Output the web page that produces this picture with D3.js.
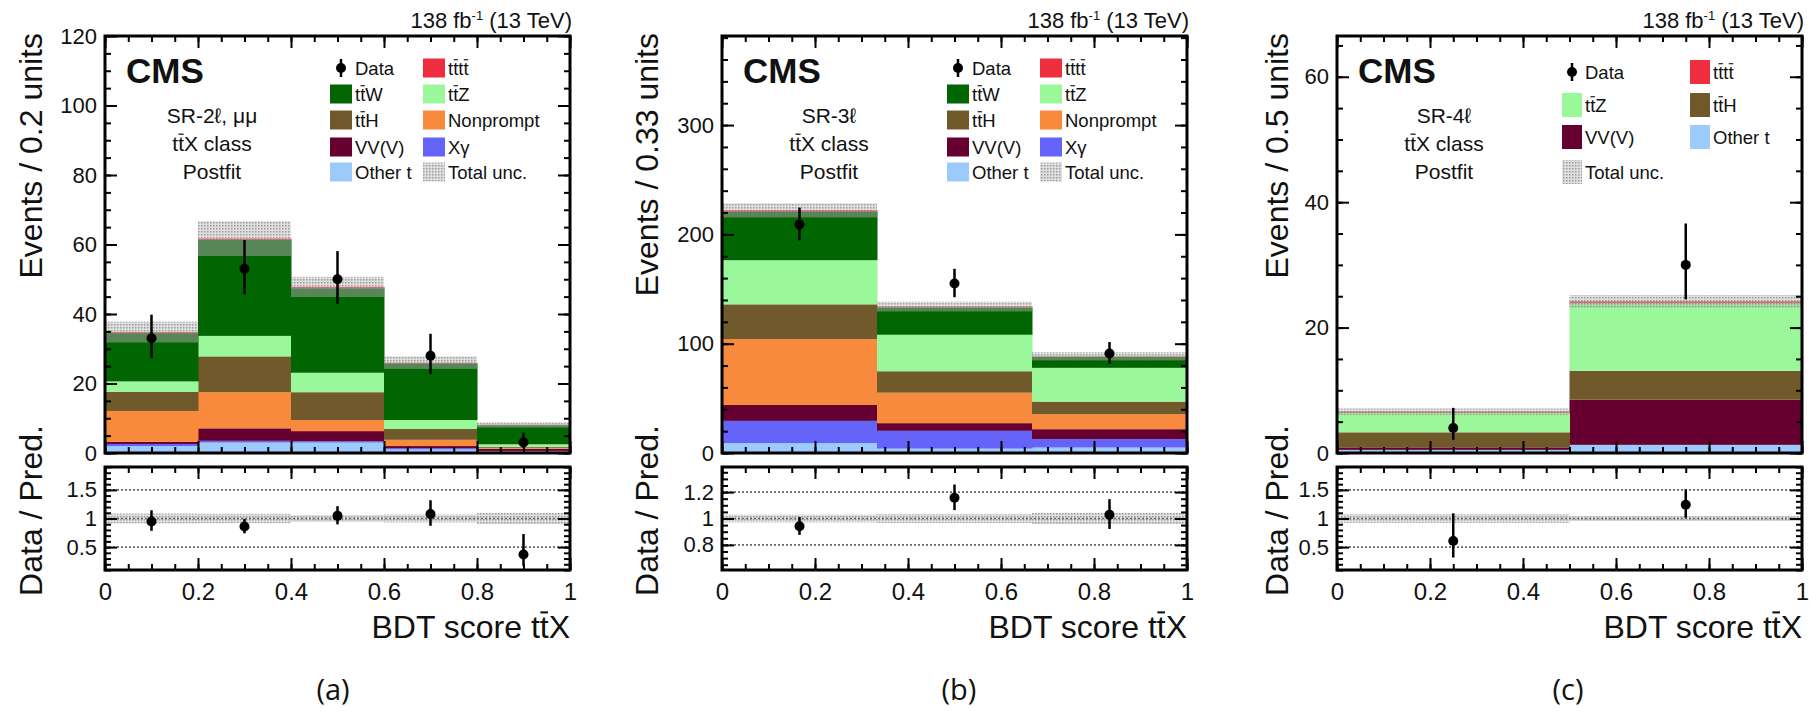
<!DOCTYPE html>
<html>
<head>
<meta charset="utf-8">
<script src="https://cdn.jsdelivr.net/npm/d3@7"></script>
<style>
  body { margin: 0; background: #fff; }
  text { font-family: "Liberation Sans", Arial, sans-serif; fill: #111; }
</style>
</head>
<body>
<svg id="fig" width="1809" height="712"></svg>
<script>

// ---- values ----

// (a) SR-2l, mumu : 5 bins
const edgesA = [0, 0.2, 0.4, 0.6, 0.8, 1.0]
const otherTA = [2.0, 3.0, 3.0, 1.0, 0.4]
const xgammaA = [0.6, 0.5, 0.4, 0.4, 0.2]
const vvvA = [0.6, 3.6, 2.9, 0.6, 0.6]
const nonpromptA = [8.9, 10.4, 3.2, 1.8, 0.3]
const tthA = [5.5, 10.3, 8.0, 3.1, 0.3]
const ttzA = [3.0, 5.9, 5.6, 2.6, 0.7]
const ttwA = [13.9, 27.6, 24.3, 16.3, 5.5]
const ttttA = [0.3, 0.4, 0.4, 0.2, 0.1]
const uncA = [3.0, 5.0, 2.9, 1.8, 0.8]
const dataA = [33, 53, 50, 28, 3]
const dataUpA = [6.8, 8.3, 8.1, 6.3, 2.9]
const dataDnA = [5.7, 7.3, 7.1, 5.3, 1.6]

// (b) SR-3l : 3 bins
const edgesB = [0, 1 / 3, 2 / 3, 1.0]
const otherTB = [9.1, 4.0, 5.0]
const xgammaB = [20.3, 16.3, 7.7]
const vvvB = [14.5, 7.0, 9.1]
const nonpromptB = [60.3, 27.9, 13.7]
const tthB = [31.8, 19.6, 11.5]
const ttzB = [40.4, 33.4, 30.9]
const ttwB = [44.1, 25.0, 10.1]
const ttttB = [1.5, 0.8, 0.5]
const uncB = [6.5, 4.5, 3.8]
const dataB = [209, 155, 91]
const dataUpB = [15.5, 13.5, 10.5]
const dataDnB = [14.5, 12.5, 9.5]

// (c) SR-4l : 2 bins
const edgesC = [0, 0.5, 1.0]
const otherTC = [0.5, 1.3]
const vvvC = [0.4, 7.2]
const tthC = [2.4, 4.6]
const ttzC = [3.1, 10.8]
const ttttC = [0.2, 0.3]
const uncC = [0.5, 1.0]
const dataC = [4, 30]
const dataUpC = [3.2, 6.6]
const dataDnC = [1.9, 5.5]

const xTicks = [0, 0.2, 0.4, 0.6, 0.8, 1]

// ---- styling ----

const colors = {
    otherT: '#9ccbfb',
    xgamma: '#6464fa',
    vvv: '#650031',
    nonprompt: '#f88a3e',
    tth: '#705a2b',
    ttz: '#9af79a',
    ttw: '#016501',
    tttt: '#ee2e3e'
}
const names = {
    data: 'Data',
    tttt: 'tt\u0304tt\u0304',
    ttw: 'tt\u0304W',
    ttz: 'tt\u0304Z',
    tth: 'tt\u0304H',
    nonprompt: 'Nonprompt',
    vvv: 'VV(V)',
    xgamma: 'X\u03b3',
    otherT: 'Other t',
    unc: 'Total unc.'
}

const PW = 465
const TOP = 36
const MAIN_BOT = 453
const RATIO_TOP = 467
const RATIO_BOT = 570

const panels = [
    {
        left: 105, titleX: 31, caption: '(a)', capX: 333,
        edges: edgesA, yMax: 120, yMajor: 20, yMinor: 5,
        ytitle: 'Events / 0.2 units',
        region: 'SR-2\u2113, \u03bc\u03bc',
        series: [
            ['otherT', otherTA], ['xgamma', xgammaA], ['vvv', vvvA], ['nonprompt', nonpromptA],
            ['tth', tthA], ['ttz', ttzA], ['ttw', ttwA], ['tttt', ttttA]
        ],
        unc: uncA, data: dataA, up: dataUpA, dn: dataDnA,
        rDomain: [0.1, 1.9], rTicks: [0.5, 1, 1.5], rMinor: 0.1,
        legend: {
            cols: [225, 318], textOff: 25, sw: 22, sh: 19, rows: [68, 94, 120, 147, 172],
            items: [['data', 'tttt'], ['ttw', 'ttz'], ['tth', 'nonprompt'], ['vvv', 'xgamma'], ['otherT', 'unc']]
        }
    },
    {
        left: 722, titleX: 647, caption: '(b)', capX: 959,
        edges: edgesB, yMax: 381.5, yMajor: 100, yMinor: 20,
        ytitle: 'Events / 0.33 units',
        region: 'SR-3\u2113',
        series: [
            ['otherT', otherTB], ['xgamma', xgammaB], ['vvv', vvvB], ['nonprompt', nonpromptB],
            ['tth', tthB], ['ttz', ttzB], ['ttw', ttwB], ['tttt', ttttB]
        ],
        unc: uncB, data: dataB, up: dataUpB, dn: dataDnB,
        rDomain: [0.61, 1.39], rTicks: [0.8, 1, 1.2], rMinor: 0.05,
        legend: {
            cols: [225, 318], textOff: 25, sw: 22, sh: 19, rows: [68, 94, 120, 147, 172],
            items: [['data', 'tttt'], ['ttw', 'ttz'], ['tth', 'nonprompt'], ['vvv', 'xgamma'], ['otherT', 'unc']]
        }
    },
    {
        left: 1337, titleX: 1277, caption: '(c)', capX: 1568,
        edges: edgesC, yMax: 66.5, yMajor: 20, yMinor: 5,
        ytitle: 'Events / 0.5 units',
        region: 'SR-4\u2113',
        series: [
            ['otherT', otherTC], ['vvv', vvvC], ['tth', tthC], ['ttz', ttzC], ['tttt', ttttC]
        ],
        unc: uncC, data: dataC, up: dataUpC, dn: dataDnC,
        rDomain: [0.1, 1.9], rTicks: [0.5, 1, 1.5], rMinor: 0.1,
        legend: {
            cols: [225, 353], textOff: 23, sw: 20, sh: 24, rows: [72, 105, 137, 172],
            items: [['data', 'tttt'], ['ttz', 'tth'], ['vvv', 'otherT'], ['unc', null]]
        }
    }
]

const svg = d3.select('#fig')
svg.append('rect').attr('width', 1809).attr('height', 712).attr('fill', '#fff')

// hatch used for the total uncertainty
const defs = svg.append('defs')
const pat = defs.append('pattern').attr('id', 'unc')
    .attr('width', 3).attr('height', 3).attr('patternUnits', 'userSpaceOnUse')
pat.append('rect').attr('width', 3).attr('height', 3).attr('fill', 'rgba(185,185,185,0.45)')
pat.append('rect').attr('width', 1.5).attr('height', 1.5).attr('fill', 'rgba(110,110,110,0.6)')

// text with an anti-quark bar: the combining macron is drawn as a short line
function barText (parent, str, fs) {
    const bars = []
    let plain = ''
    for (const ch of str) {
        if (ch === '\u0304') bars.push(plain.length - 1)
        else plain += ch
    }
    const t = parent.append('text').attr('font-size', fs).text(plain)
    return { t, bars, fs }
}

function drawBars ({ t, bars, fs }) {
    const node = t.node()
    const host = d3.select(node.parentNode)
    bars.forEach(i => {
        const a = node.getStartPositionOfChar(i)
        const b = node.getEndPositionOfChar(i)
        host.append('line')
            .attr('x1', a.x + fs * 0.02).attr('x2', b.x - fs * 0.02)
            .attr('y1', a.y - fs * 0.8).attr('y2', a.y - fs * 0.8)
            .attr('stroke', t.attr('fill') || '#111').attr('stroke-width', Math.max(1.2, fs * 0.065))
    })
}

function styleAxis (g, size) {
    g.select('.domain').remove()
    g.selectAll('line').attr('stroke', '#000').attr('stroke-width', 2)
    g.selectAll('text').attr('font-size', size).attr('font-family', '"Liberation Sans", Arial, sans-serif').attr('fill', '#222')
}

function minorValues (lo, hi, step) {
    const out = []
    for (let v = Math.ceil(lo / step - 1e-9) * step; v <= hi + 1e-9; v += step) out.push(v)
    return out
}

function frameTicks (g, x, y, yMajor, yMinorVals, top, bot, L, R, withXLabels, ySize) {
    const xMinor = minorValues(0, 1, 0.05)
    g.append('g').attr('transform', `translate(0,${bot})`)
        .call(d3.axisBottom(x).tickValues(xMinor).tickSize(-6).tickFormat(''))
        .call(a => styleAxis(a, 0))
    g.append('g').attr('transform', `translate(0,${top})`)
        .call(d3.axisTop(x).tickValues(xMinor).tickSize(-6).tickFormat(''))
        .call(a => styleAxis(a, 0))
    g.append('g').attr('transform', `translate(0,${bot})`)
        .call(d3.axisBottom(x).tickValues(xTicks).tickSize(-12).tickPadding(13)
            .tickFormat(withXLabels ? d => String(d) : ''))
        .call(a => styleAxis(a, 24))
    g.append('g').attr('transform', `translate(0,${top})`)
        .call(d3.axisTop(x).tickValues(xTicks).tickSize(-12).tickFormat(''))
        .call(a => styleAxis(a, 0))
    g.append('g').attr('transform', `translate(${L},0)`)
        .call(d3.axisLeft(y).tickValues(yMinorVals).tickSize(-6).tickFormat(''))
        .call(a => styleAxis(a, 0))
    g.append('g').attr('transform', `translate(${R},0)`)
        .call(d3.axisRight(y).tickValues(yMinorVals).tickSize(-6).tickFormat(''))
        .call(a => styleAxis(a, 0))
    g.append('g').attr('transform', `translate(${L},0)`)
        .call(d3.axisLeft(y).tickValues(yMajor).tickSize(-12).tickPadding(8).tickFormat(d => String(d)))
        .call(a => styleAxis(a, ySize))
    g.append('g').attr('transform', `translate(${R},0)`)
        .call(d3.axisRight(y).tickValues(yMajor).tickSize(-12).tickFormat(''))
        .call(a => styleAxis(a, 0))
    g.append('rect')
        .attr('x', L).attr('y', top).attr('width', R - L).attr('height', bot - top)
        .attr('fill', 'none').attr('stroke', '#000').attr('stroke-width', 3)
}

function drawPanel (p, idx) {
    const L = p.left
    const R = L + PW
    const g = svg.append('g')

    const x = d3.scaleLinear().domain([0, 1]).range([L, R])
    const y = d3.scaleLinear().domain([0, p.yMax]).range([MAIN_BOT, TOP])
    const yr = d3.scaleLinear().domain(p.rDomain).range([RATIO_BOT, RATIO_TOP])

    const nb = p.edges.length - 1
    const keys = p.series.map(s => s[0])
    const rows = d3.range(nb).map(i => Object.fromEntries(p.series.map(s => [s[0], s[1][i]])))
    const stacked = d3.stack().keys(keys)(rows)
    const total = rows.map(r => d3.sum(keys, k => r[k]))

    defs.append('clipPath').attr('id', 'clipMain' + idx)
        .append('rect').attr('x', L).attr('y', TOP).attr('width', PW).attr('height', MAIN_BOT - TOP)
    defs.append('clipPath').attr('id', 'clipRatio' + idx)
        .append('rect').attr('x', L).attr('y', RATIO_TOP).attr('width', PW).attr('height', RATIO_BOT - RATIO_TOP)

    const main = g.append('g').attr('clip-path', `url(#clipMain${idx})`)

    // stacked histogram
    main.selectAll('g.layer').data(stacked).join('g')
        .attr('class', 'layer')
        .attr('fill', d => colors[d.key])
        .selectAll('rect').data(d => d).join('rect')
        .attr('x', (d, i) => x(p.edges[i]))
        .attr('width', (d, i) => x(p.edges[i + 1]) - x(p.edges[i]) + 0.5)
        .attr('y', d => y(d[1]))
        .attr('height', d => Math.max(0, y(d[0]) - y(d[1])))

    // total uncertainty band
    main.selectAll('rect.unc').data(total).join('rect')
        .attr('class', 'unc')
        .attr('x', (d, i) => x(p.edges[i]))
        .attr('width', (d, i) => x(p.edges[i + 1]) - x(p.edges[i]))
        .attr('y', (d, i) => y(d + p.unc[i]))
        .attr('height', (d, i) => y(d - p.unc[i]) - y(d + p.unc[i]))
        .attr('fill', 'url(#unc)')

    // data points
    const mids = d3.range(nb).map(i => (p.edges[i] + p.edges[i + 1]) / 2)
    main.selectAll('line.err').data(p.data).join('line')
        .attr('x1', (d, i) => x(mids[i])).attr('x2', (d, i) => x(mids[i]))
        .attr('y1', (d, i) => y(d - p.dn[i])).attr('y2', (d, i) => y(d + p.up[i]))
        .attr('stroke', '#000').attr('stroke-width', 2.5)
    main.selectAll('circle.pt').data(p.data).join('circle')
        .attr('cx', (d, i) => x(mids[i])).attr('cy', d => y(d)).attr('r', 5).attr('fill', '#000')

    frameTicks(g, x, y, d3.range(0, p.yMax + 1e-9, p.yMajor), minorValues(0, p.yMax, p.yMinor),
        TOP, MAIN_BOT, L, R, false, 22)

    // ratio pad
    const ratio = g.append('g').attr('clip-path', `url(#clipRatio${idx})`)
    ratio.selectAll('rect.runc').data(total).join('rect')
        .attr('x', (d, i) => x(p.edges[i]))
        .attr('width', (d, i) => x(p.edges[i + 1]) - x(p.edges[i]))
        .attr('y', (d, i) => yr(1 + p.unc[i] / d))
        .attr('height', (d, i) => yr(1 - p.unc[i] / d) - yr(1 + p.unc[i] / d))
        .attr('fill', 'url(#unc)')
    ratio.selectAll('line.ref').data(p.rTicks).join('line')
        .attr('x1', L).attr('x2', R).attr('y1', d => yr(d)).attr('y2', d => yr(d))
        .attr('stroke', '#666').attr('stroke-width', 1.6).attr('stroke-dasharray', '2,2')
    ratio.selectAll('line.rerr').data(p.data).join('line')
        .attr('x1', (d, i) => x(mids[i])).attr('x2', (d, i) => x(mids[i]))
        .attr('y1', (d, i) => yr((d - p.dn[i]) / total[i]))
        .attr('y2', (d, i) => yr((d + p.up[i]) / total[i]))
        .attr('stroke', '#000').attr('stroke-width', 2.5)
    ratio.selectAll('circle.rpt').data(p.data).join('circle')
        .attr('cx', (d, i) => x(mids[i])).attr('cy', (d, i) => yr(d / total[i]))
        .attr('r', 5).attr('fill', '#000')

    frameTicks(g, x, yr, p.rTicks, minorValues(p.rDomain[0], p.rDomain[1], p.rMinor),
        RATIO_TOP, RATIO_BOT, L, R, true, 22)

    // titles
    g.append('text')
        .attr('transform', `translate(${p.titleX},${TOP - 3}) rotate(-90)`)
        .attr('text-anchor', 'end').attr('dy', '0.35em')
        .attr('font-size', 32).text(p.ytitle)
    g.append('text')
        .attr('transform', `translate(${p.titleX},${(RATIO_TOP + RATIO_BOT) / 2 - 8}) rotate(-90)`)
        .attr('text-anchor', 'middle').attr('dy', '0.35em')
        .attr('font-size', 32).text('Data / Pred.')
    const xt = barText(g, 'BDT score tt\u0304X', 32)
    xt.t.attr('x', R).attr('y', 638).attr('text-anchor', 'end')
    drawBars(xt)

    const lumi = g.append('text').attr('x', R + 2).attr('y', 28)
        .attr('text-anchor', 'end').attr('font-size', 22)
    lumi.append('tspan').text('138 fb')
    lumi.append('tspan').attr('font-size', 13).attr('dy', -8).text('-1')
    lumi.append('tspan').attr('dy', 8).text(' (13 TeV)')

    g.append('text').attr('x', L + 21).attr('y', 83)
        .attr('font-size', 35).attr('font-weight', 'bold').text('CMS')
    const info = [p.region, 'tt\u0304X class', 'Postfit']
    info.forEach((s, i) => {
        const it = barText(g, s, 21)
        it.t.attr('x', L + 107).attr('y', 123 + i * 28)
            .attr('text-anchor', 'middle').attr('fill', '#222')
        drawBars(it)
    })

    // legend
    const lg = p.legend
    lg.items.forEach((row, r) => {
        row.forEach((key, c) => {
            if (!key) return
            const cx = L + lg.cols[c]
            const cy = lg.rows[r]
            if (key === 'data') {
                g.append('line').attr('x1', cx + lg.sw / 2).attr('x2', cx + lg.sw / 2)
                    .attr('y1', cy - 9).attr('y2', cy + 9).attr('stroke', '#000').attr('stroke-width', 2.5)
                g.append('circle').attr('cx', cx + lg.sw / 2).attr('cy', cy).attr('r', 5).attr('fill', '#000')
            } else {
                g.append('rect').attr('x', cx).attr('y', cy - lg.sh / 2)
                    .attr('width', lg.sw).attr('height', lg.sh)
                    .attr('fill', key === 'unc' ? 'url(#unc)' : colors[key])
            }
            const lt = barText(g, names[key], 18.5)
            lt.t.attr('x', cx + lg.textOff).attr('y', cy + 6.5).attr('fill', '#222')
            drawBars(lt)
        })
    })

    // sub-figure caption
    svg.append('text').attr('x', p.capX).attr('y', 700).attr('text-anchor', 'middle')
        .attr('font-size', 29).style('font-family', '"Open Sans", sans-serif').text(p.caption)
}

panels.forEach(drawPanel)

</script>
</body>
</html>
